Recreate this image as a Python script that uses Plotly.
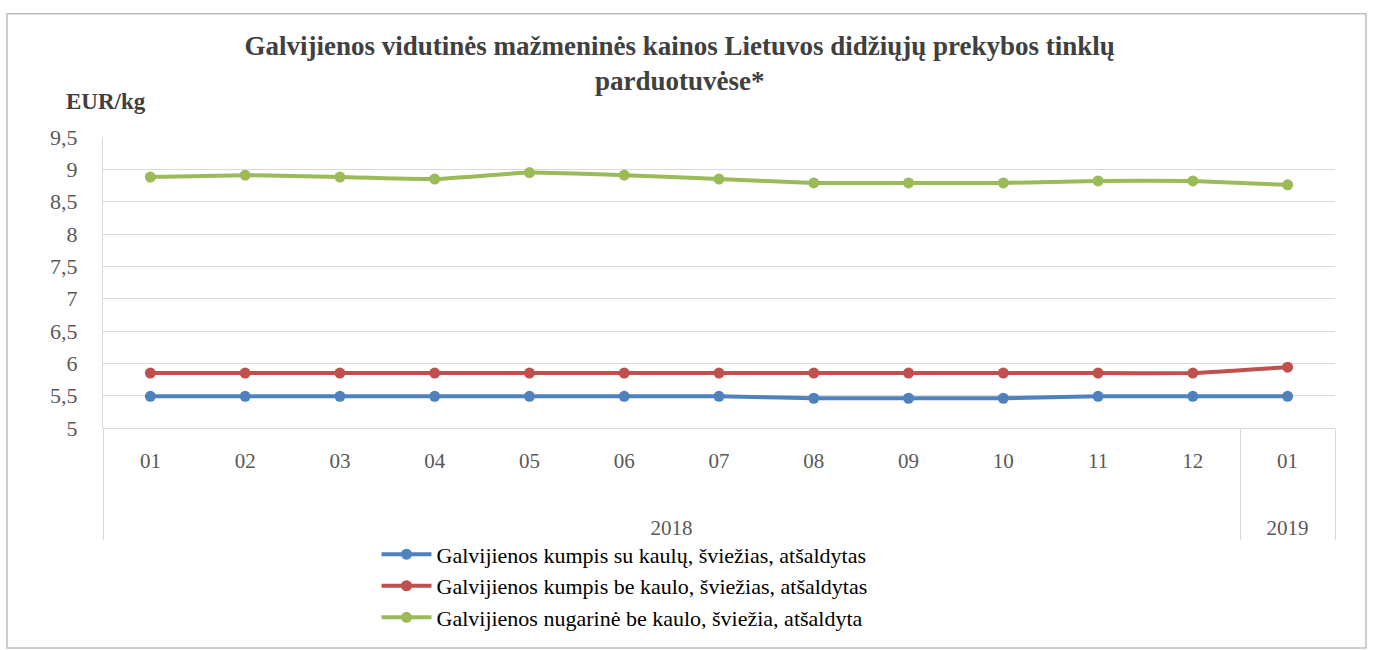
import plotly.graph_objects as go

years = ["2018"] * 12 + ["2019"]
months = ["01", "02", "03", "04", "05", "06", "07", "08", "09", "10", "11", "12", "01"]

blue_name = "Galvijienos kumpis su kaulų, šviežias, atšaldytas"
red_name = "Galvijienos kumpis be kaulo, šviežias, atšaldytas"
green_name = "Galvijienos nugarinė be kaulo, šviežia, atšaldyta"

blue_vals = [5.49, 5.49, 5.49, 5.49, 5.49, 5.49, 5.49, 5.46, 5.46, 5.46, 5.49, 5.49, 5.49]
red_vals = [5.85, 5.85, 5.85, 5.85, 5.85, 5.85, 5.85, 5.85, 5.85, 5.85, 5.85, 5.85, 5.94]
green_vals = [8.88, 8.91, 8.88, 8.85, 8.95, 8.91, 8.85, 8.79, 8.79, 8.79, 8.82, 8.82, 8.76]

y_ticks = [5, 5.5, 6, 6.5, 7, 7.5, 8, 8.5, 9, 9.5]
y_tick_text = ["5", "5,5", "6", "6,5", "7", "7,5", "8", "8,5", "9", "9,5"]

serif = "Liberation Serif"

# year labels are pushed down onto a lower row, as in the source chart
year_labels = ["<br><br>" + y for y in years]

fig = go.Figure()
for name, vals, color in [
    (blue_name, blue_vals, "#4F81BD"),
    (red_name, red_vals, "#C0504D"),
    (green_name, green_vals, "#9BBB59"),
]:
    fig.add_trace(go.Scatter(
        x=[year_labels, months], y=vals, name=name, mode="lines+markers",
        line=dict(color=color, width=4, shape="spline", smoothing=0.3),
        marker=dict(color=color, size=11, symbol="circle"),
        hoverinfo="y+name",
    ))

fig.update_layout(
    width=1373, height=650,
    margin=dict(l=103, r=38, t=137, b=218),
    paper_bgcolor="white", plot_bgcolor="white",
    font=dict(family=serif, color="#595959", size=21),
    title=dict(
        text="<b>Galvijienos vidutinės mažmeninės kainos Lietuvos didžiųjų prekybos tinklų<br>parduotuvėse*</b>",
        x=0.495, xanchor="center", y=1 - 55 / 650, yanchor="top", yref="container",
        font=dict(family=serif, size=27, color="#404040"),
    ),
    showlegend=True,
    legend=dict(
        orientation="v", x=0.222, xanchor="left", y=-0.362, yanchor="top",
        font=dict(family=serif, size=22, color="#000000"),
        bgcolor="rgba(0,0,0,0)", itemwidth=50, tracegroupgap=0,
    ),
    xaxis=dict(
        type="multicategory", range=[-0.5, 12.5], showgrid=False, showline=True,
        linecolor="#D9D9D9", linewidth=1, showdividers=True, dividercolor="#D9D9D9",
        dividerwidth=1, ticks="", ticklabelstandoff=14,
        tickfont=dict(family=serif, size=21, color="#595959"),
        zeroline=False,
    ),
    yaxis=dict(
        range=[5, 9.5], tickvals=y_ticks, ticktext=y_tick_text,
        showgrid=True, gridcolor="#D9D9D9", gridwidth=1,
        showline=True, linecolor="#D9D9D9", linewidth=1, ticklabelstandoff=20,
        zeroline=False, ticks="", tickfont=dict(family=serif, size=22, color="#595959"),
    ),
)

fig.add_annotation(
    text="<b>EUR/kg</b>", xref="paper", yref="paper",
    x=(106 - 103) / 1232, y=1 + (137 - 101) / 295, xanchor="center", yanchor="middle",
    showarrow=False, font=dict(family=serif, size=23, color="#404040"),
)

fig.add_shape(
    type="rect", xref="paper", yref="paper",
    x0=(7 - 103) / 1232, x1=(1366 - 103) / 1232,
    y0=-(655 - 432) / 295, y1=1 + (137 - 12) / 295,
    line=dict(color="#BFBFBF", width=1.5), fillcolor="rgba(0,0,0,0)", layer="below",
)

fig.write_html("out.html", config={"displayModeBar": False},
               post_script="document.body.style.margin='0';")
